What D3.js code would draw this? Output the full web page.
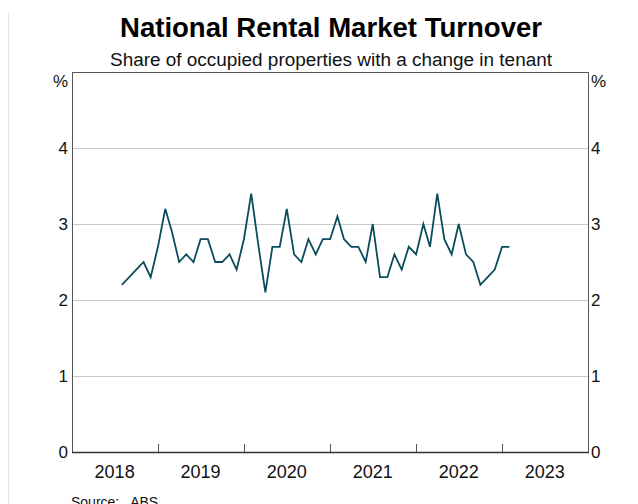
<!DOCTYPE html>
<html>
<head>
<meta charset="utf-8">
<script src="https://cdn.jsdelivr.net/npm/d3@7"></script>
<style>
  html, body { margin: 0; padding: 0; background: #fff; }
  svg { display: block; font-family: "Liberation Sans", Arial, sans-serif; }
</style>
</head>
<body>
<svg id="chart" width="638" height="504"></svg>
<script>
const title = "National Rental Market Turnover";
const subtitle = "Share of occupied properties with a change in tenant";
const unitLabel = "%";
const sourceText = "Source:   ABS";

const months = [
  "2018-08","2018-09","2018-10","2018-11","2018-12",
  "2019-01","2019-02","2019-03","2019-04","2019-05","2019-06","2019-07","2019-08","2019-09","2019-10","2019-11","2019-12",
  "2020-01","2020-02","2020-03","2020-04","2020-05","2020-06","2020-07","2020-08","2020-09","2020-10","2020-11","2020-12",
  "2021-01","2021-02","2021-03","2021-04","2021-05","2021-06","2021-07","2021-08","2021-09","2021-10","2021-11","2021-12",
  "2022-01","2022-02","2022-03","2022-04","2022-05","2022-06","2022-07","2022-08","2022-09","2022-10","2022-11","2022-12",
  "2023-01","2023-02"
];
const turnover = [
  2.2, 2.3, 2.4, 2.5, 2.3,
  2.7, 3.2, 2.9, 2.5, 2.6, 2.5, 2.8, 2.8, 2.5, 2.5, 2.6, 2.4,
  2.8, 3.4, 2.75, 2.1, 2.7, 2.7, 3.2, 2.6, 2.5, 2.8, 2.6, 2.8,
  2.8, 3.1, 2.8, 2.7, 2.7, 2.5, 3.0, 2.3, 2.3, 2.6, 2.4, 2.7,
  2.6, 3.0, 2.7, 3.4, 2.8, 2.6, 3.0, 2.6, 2.5, 2.2, 2.3, 2.4,
  2.7, 2.7
];
const yearLabels = ["2018","2019","2020","2021","2022","2023"];
const yTicks = [0, 1, 2, 3, 4];

const svg = d3.select("#chart");
const mLeft = 72, mRight = 588, mTop = 72, mBottom = 452;
const parse = d3.timeParse("%Y-%m");
const data = months.map((m, i) => ({ date: parse(m), value: turnover[i] }));

const x = d3.scaleTime()
  .domain([new Date(2018, 0, 1), new Date(2024, 0, 1)])
  .range([mLeft, mRight]);
const y = d3.scaleLinear().domain([0, 5]).range([mBottom, mTop]);

// faint frame line on left
svg.append("line").attr("x1", 8.5).attr("x2", 8.5).attr("y1", 13).attr("y2", 504)
  .attr("stroke", "#e2e2e2").attr("stroke-width", 1);

// gridlines
svg.append("g").selectAll("line").data(yTicks.filter(d => d > 0)).join("line")
  .attr("x1", mLeft).attr("x2", mRight)
  .attr("y1", d => Math.round(y(d)) + 0.5).attr("y2", d => Math.round(y(d)) + 0.5)
  .attr("stroke", "#c8c8c8").attr("stroke-width", 1);

// frame
svg.append("rect").attr("x", mLeft + 0.5).attr("y", mTop + 0.5)
  .attr("width", mRight - mLeft).attr("height", mBottom - mTop)
  .attr("fill", "none").attr("stroke", "#555").attr("stroke-width", 1);
svg.append("line").attr("x1", mLeft).attr("x2", mRight + 1)
  .attr("y1", mBottom + 0.5).attr("y2", mBottom + 0.5)
  .attr("stroke", "#333").attr("stroke-width", 1.5);

// x ticks (inside, at year boundaries)
const yearStarts = d3.range(2019, 2024).map(yr => new Date(yr, 0, 1));
svg.append("g").selectAll("line").data(yearStarts).join("line")
  .attr("x1", d => Math.round(x(d)) + 0.5).attr("x2", d => Math.round(x(d)) + 0.5)
  .attr("y1", mBottom).attr("y2", mBottom - 8)
  .attr("stroke", "#555").attr("stroke-width", 1);

// x labels centered in year
svg.append("g").selectAll("text").data(yearLabels).join("text")
  .attr("x", d => x(new Date(+d, 6, 1)))
  .attr("y", 478)
  .attr("text-anchor", "middle")
  .attr("font-size", 18).attr("fill", "#111")
  .text(d => d);

// y labels left and right
const yl = svg.append("g").attr("font-size", 17).attr("fill", "#111");
yl.selectAll("text.l").data(yTicks).join("text").attr("class", "l")
  .attr("x", 68).attr("y", d => y(d) + 6).attr("text-anchor", "end").text(d => d);
yl.selectAll("text.r").data(yTicks).join("text").attr("class", "r")
  .attr("x", 591).attr("y", d => y(d) + 6).attr("text-anchor", "start").text(d => d);
yl.append("text").attr("x", 68).attr("y", 87).attr("text-anchor", "end").text(unitLabel);
yl.append("text").attr("x", 591).attr("y", 87).attr("text-anchor", "start").text(unitLabel);

// line
const line = d3.line().x(d => x(d.date)).y(d => y(d.value));
svg.append("path").datum(data)
  .attr("d", line)
  .attr("fill", "none")
  .attr("stroke", "#0b4c5c")
  .attr("stroke-width", 1.8)
  .attr("stroke-linejoin", "miter");

// titles
svg.append("text").attr("x", 331).attr("y", 37).attr("text-anchor", "middle")
  .attr("font-size", 27).attr("font-weight", "bold").attr("fill", "#000")
  .attr("textLength", 422).attr("lengthAdjust", "spacingAndGlyphs").text(title);
svg.append("text").attr("x", 331).attr("y", 66).attr("text-anchor", "middle")
  .attr("font-size", 18).attr("fill", "#111")
  .attr("textLength", 442).attr("lengthAdjust", "spacingAndGlyphs").text(subtitle);

// source
svg.append("text").attr("x", 71).attr("y", 507).attr("font-size", 14).attr("fill", "#111")
  .attr("xml:space", "preserve").style("white-space", "pre").text(sourceText);
</script>
</body>
</html>
